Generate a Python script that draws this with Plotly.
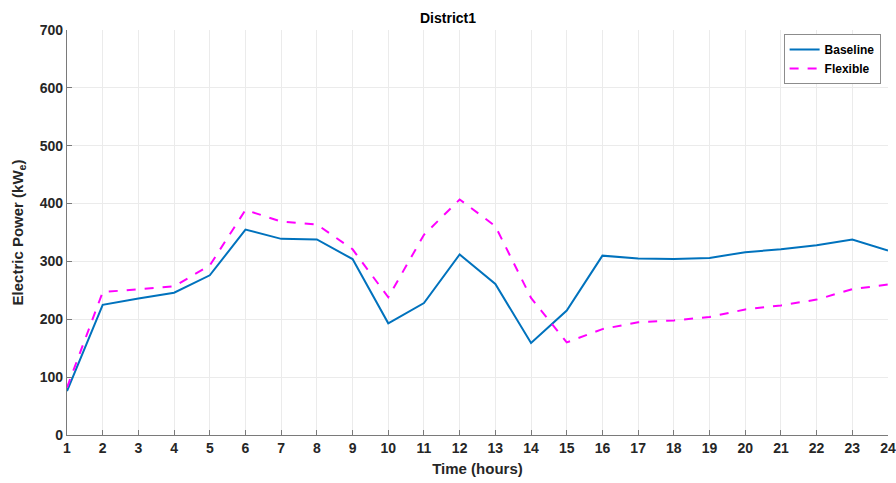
import plotly.graph_objects as go

# Hourly electric power for District1
hours = list(range(1, 25))
baseline = [76, 225, 236, 246, 276, 355, 339, 338, 304, 193, 228, 312,
            261, 159, 215, 310, 305, 304, 306, 316, 321, 328, 338, 319]
flexible = [82, 247, 252, 257, 293, 389, 369, 364, 321, 238, 346, 407,
            361, 237, 160, 183, 195, 198, 204, 217, 224, 234, 252, 260]

x_ticks = list(range(1, 25))
y_ticks = [0, 100, 200, 300, 400, 500, 600, 700]

FONT = "Liberation Sans, Arial, sans-serif"
TXT = "#262626"

fig = go.Figure()
fig.add_trace(go.Scatter(
    x=hours, y=baseline, mode="lines", name="<b>Baseline</b>",
    line=dict(color="#0072BD", width=2),
))
fig.add_trace(go.Scatter(
    x=hours, y=flexible, mode="lines", name="<b>Flexible</b>",
    line=dict(color="#FF00FF", width=2, dash="dash"),
))

axis_common = dict(
    showgrid=True, gridcolor="#ebebeb", gridwidth=1,
    showline=True, linecolor="#7a7a7a", linewidth=1.2,
    ticks="inside", ticklen=5, tickcolor="#7a7a7a",
    tickfont=dict(family=FONT, size=14, color=TXT),
    zeroline=False, mirror=False, automargin=False,
)

fig.update_layout(
    width=896, height=483,
    margin=dict(l=67, r=8, t=30, b=48),
    paper_bgcolor="white", plot_bgcolor="white",
    title=dict(text="<b>District1</b>", x=0.5, xanchor="center", y=0.962, yanchor="middle",
               font=dict(family=FONT, size=14, color="black")),
    xaxis=dict(range=[1, 24], tickvals=x_ticks, ticktext=[f"<b>{v}</b>" for v in x_ticks],
               title=dict(text="<b>Time (hours)</b>", standoff=8,
                          font=dict(family=FONT, size=15, color=TXT)),
               **axis_common),
    yaxis=dict(range=[0, 700], tickvals=y_ticks, ticktext=[f"<b>{v}</b>" for v in y_ticks],
               title=dict(text="<b>Electric Power (kW<sub>e</sub>)</b>", standoff=12,
                          font=dict(family=FONT, size=15, color=TXT)),
               **axis_common),
    legend=dict(x=0.991, y=0.99, xanchor="right", yanchor="top",
                bgcolor="white", bordercolor="#8c8c8c", borderwidth=1,
                font=dict(family=FONT, size=12, color="black"),
                tracegroupgap=0, itemwidth=30),
    showlegend=True,
)

fig.write_html("out.html")
